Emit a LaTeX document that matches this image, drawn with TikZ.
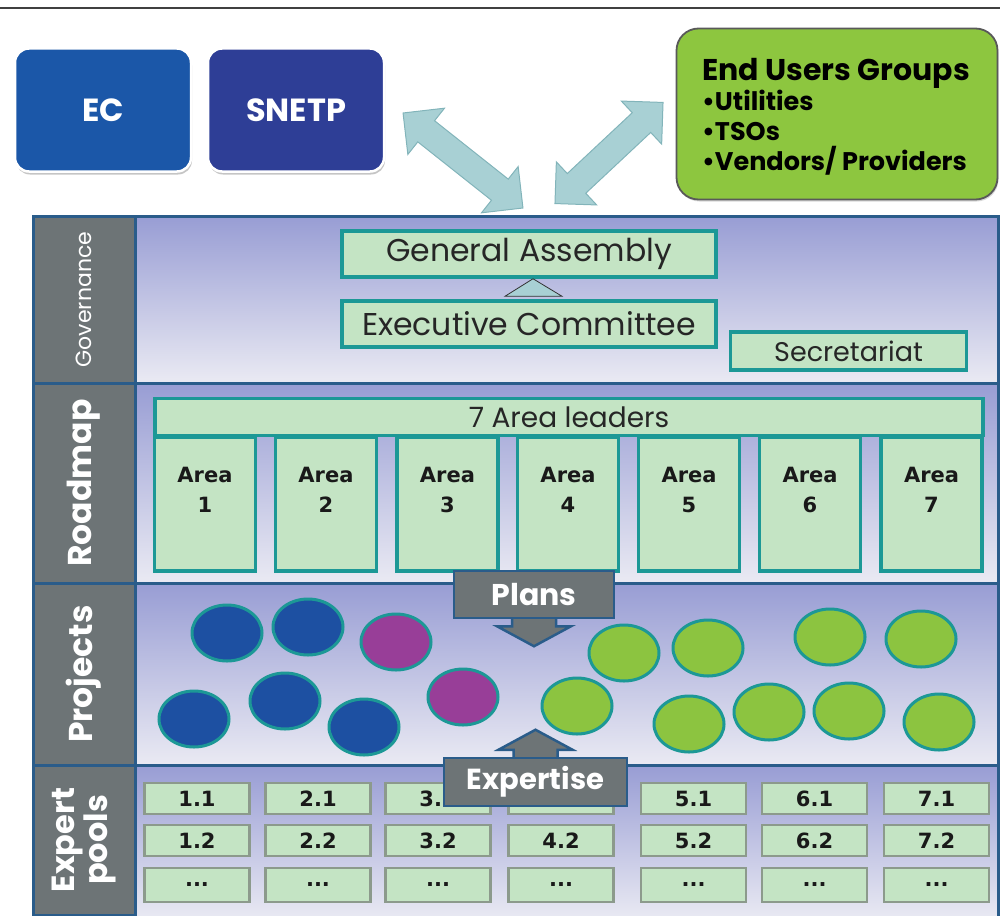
\documentclass[tikz,border=0pt]{standalone}
\usepackage{fontspec}
\setmainfont{Poppins}
\newfontfamily\verdana{DejaVu Sans}
\usetikzlibrary{shapes.geometric,shapes.arrows,shadows,calc}

\definecolor{ecblue}{RGB}{27,87,168}
\definecolor{snetpblue}{RGB}{46,62,150}
\definecolor{usergreen}{RGB}{141,198,63}
\definecolor{arrowteal}{RGB}{168,208,212}
\definecolor{arrowedge}{RGB}{130,180,186}
\definecolor{frameblue}{RGB}{42,92,138}
\definecolor{sidegray}{RGB}{109,116,118}
\definecolor{bandtop}{RGB}{152,157,212}
\definecolor{bandmid}{RGB}{198,200,230}
\definecolor{bandbot}{RGB}{234,234,243}
\definecolor{boxgreen}{RGB}{196,228,196}
\definecolor{tealline}{RGB}{28,152,150}
\definecolor{cellgray}{RGB}{140,154,140}
\definecolor{projblue}{RGB}{29,80,162}
\definecolor{projpink}{RGB}{152,62,152}
\definecolor{projgreen}{RGB}{140,196,64}

\tikzset{
  topbox/.style={rounded corners=14pt, draw=white, line width=2.5pt, text=white,
    minimum width=176, minimum height=123, font=\fontsize{32}{36}\selectfont\bfseries,
    drop shadow={shadow xshift=1pt, shadow yshift=-3pt, fill=black!45}},
  twoway/.style={double arrow, fill=arrowteal, draw=arrowedge, line width=1pt,
    inner sep=13pt, double arrow head extend=16pt, minimum width=58pt},
  greenbox/.style={draw=tealline, line width=3.5pt, fill=boxgreen, inner sep=0pt,
    text=black!85},
  areabox/.style={greenbox, minimum width=101, minimum height=134},
  areatext/.style={font=\verdana\bfseries\fontsize{21}{30}\selectfont, align=center,
    text=black!90},
  sidecell/.style={rotate=90, fill=sidegray, draw=frameblue, line width=3pt,
    minimum height=102, text=white, align=center},
  project/.style={ellipse, draw=tealline, line width=3pt, minimum width=70,
    minimum height=56},
  poolcell/.style={draw=cellgray, line width=2.5pt, fill=boxgreen, minimum width=105,
    minimum height=31, font=\verdana\bfseries\fontsize{21}{22}\selectfont,
    text=black!90},
  flowbox/.style={fill=sidegray, draw=frameblue, line width=2.5pt, text=white,
    font=\fontsize{30}{32}\selectfont\bfseries},
}

\begin{document}
\begin{tikzpicture}[x=1pt, y=-1pt]
  \useasboundingbox (0,0) rectangle (1000,915);
  \draw[line width=1.8pt, black!75] (0,8) -- (1000,8);

  % partners
  \node[topbox, fill=ecblue] (ec) at (103,110) {EC};
  \node[topbox, fill=snetpblue] (snetp) at (296,110) {SNETP};
  \node[rounded corners=22pt, fill=usergreen, draw=black!65, line width=1.8pt,
    minimum width=321, minimum height=171,
    drop shadow={shadow xshift=1pt, shadow yshift=-2pt, fill=black!30}] (users) at (837,114) {};
  \node[align=left, font=\bfseries\fontsize{25.5}{30}\selectfont] (userstext) at ([xshift=-1pt, yshift=-3pt]users)
    {\fontsize{30}{31}\selectfont End Users Groups\\
     •Utilities\\•TSOs\\•Vendors/ Providers};

  \coordinate (snetptip) at (403,113);
  \coordinate (leftfoot) at (523,208);
  \coordinate (rightfoot) at (555,204);
  \coordinate (userstip) at (663,102);
  \node[twoway, rotate=-38.4, minimum height=153] (linkL) at ($(snetptip)!0.5!(leftfoot)$) {};
  \node[twoway, rotate=43.1, minimum height=148] (linkR) at ($(rightfoot)!0.5!(userstip)$) {};

  % bands
  \shade[top color=bandtop, middle color=bandmid, bottom color=bandbot] (135,216) rectangle (998,383);
  \shade[top color=bandtop, middle color=bandmid, bottom color=bandbot] (135,383) rectangle (998,583);
  \shade[top color=bandtop, middle color=bandmid, bottom color=bandbot] (135,583) rectangle (998,765);
  \shade[top color=bandtop, middle color=bandmid, bottom color=bandbot] (135,765) rectangle (998,920);
  \draw[frameblue, line width=3pt] (33,216) rectangle (998,920);
  \foreach \y in {383,583,765}
    \draw[frameblue, line width=3pt] (33,\y) -- (998,\y);

  \node[sidecell, minimum width=167, font=\fontsize{22}{24}\selectfont] (gov) at (84,299.5) {Governance};
  \node[sidecell, minimum width=200, font=\fontsize{33}{34}\selectfont\bfseries] (road) at (84,483) {Roadmap};
  \node[sidecell, minimum width=182, font=\fontsize{33}{34}\selectfont\bfseries] (proj) at (84,674) {Projects};
  \node[sidecell, minimum width=150, font=\fontsize{32}{30}\selectfont\bfseries] (pools) at (84,840) {Expert\\pools};

  % governance
  \node[greenbox, minimum width=374, minimum height=46, font=\fontsize{31.5}{32}\selectfont] (ga) at (529,254) {General Assembly};
  \node[greenbox, minimum width=374, minimum height=46, font=\fontsize{31.5}{32}\selectfont] (exec) at (529,324) {Executive Committee};
  \node[greenbox, minimum width=236, minimum height=38, font=\fontsize{27}{28}\selectfont] (sec) at (848.5,351) {Secretariat};
  \draw[fill=arrowteal, draw=black!80, line width=0.8pt]
    ($(exec.north)+(-24,-3)$) -- ($(ga.south)+(4,0)$) -- ($(exec.north)+(33,-3)$) -- cycle;

  % roadmap
  \node[greenbox, minimum width=828, minimum height=37, font=\fontsize{28}{29}\selectfont] (leaders) at (569,417) {7 Area leaders};
  \foreach \i/\x in {1/205,2/326,3/447.5,4/568,5/689,6/810,7/931.5}
    \node[areabox, label={[areatext, anchor=north, yshift=-28pt]north:Area\\\i}] (area\i) at (\x,504) {};

  % projects
  \foreach \x/\y/\c [count=\i] in {227/633/projblue, 308/627/projblue, 396/642/projpink,
      194/719/projblue, 285/701/projblue, 364/727/projblue, 463/697/projpink,
      624/653/projgreen, 708/648/projgreen, 830/637/projgreen, 921/639/projgreen,
      577/706/projgreen, 689/724/projgreen, 769/712/projgreen, 849/711/projgreen, 939/722/projgreen}
    \node[project, fill=\c] (p\i) at (\x,\y) {};

  % expert pools (4.1 lies under the expertise box)
  \foreach \col/\cx/\top in {1/197/1.1,2/318/2.1,3/438/3.1,4/561/,5/693.5/5.1,6/814.5/6.1,7/936.5/7.1} {
    \node[poolcell] (pool\col a) at (\cx,798.5) {\top};
    \node[poolcell] (pool\col b) at (\cx,840.5) {\col.2};
    \node[poolcell, minimum height=34] (pool\col c) at (\cx,885) {...};
  }

  % plans and expertise
  \node[flowbox, minimum width=160, minimum height=47] (plans) at (534,594.5) {};
  \draw[fill=sidegray, draw=frameblue, line width=2.5pt]
    ($(plans.south)+(-22,-3)$) -- ++(0,10) -- ++(-15,0) -- ($(plans.south)+(0,27)$)
    -- ($(plans.south)+(37,7)$) -- ++(-15,0) -- ++(0,-10);
  \node[flowbox, minimum width=160, minimum height=47] at (plans) {Plans};

  \node[flowbox, minimum width=183, minimum height=48] (expertise) at (535.5,782) {};
  \draw[fill=sidegray, draw=frameblue, line width=2.5pt]
    ($(expertise.north)+(-22,3)$) -- ++(0,-10) -- ++(-15,0) -- ($(expertise.north)+(0,-27)$)
    -- ($(expertise.north)+(37,-7)$) -- ++(-15,0) -- ++(0,10);
  \node[flowbox, minimum width=183, minimum height=48, font=\fontsize{29}{32}\selectfont\bfseries] at (expertise) {Expertise};
\end{tikzpicture}
\end{document}
